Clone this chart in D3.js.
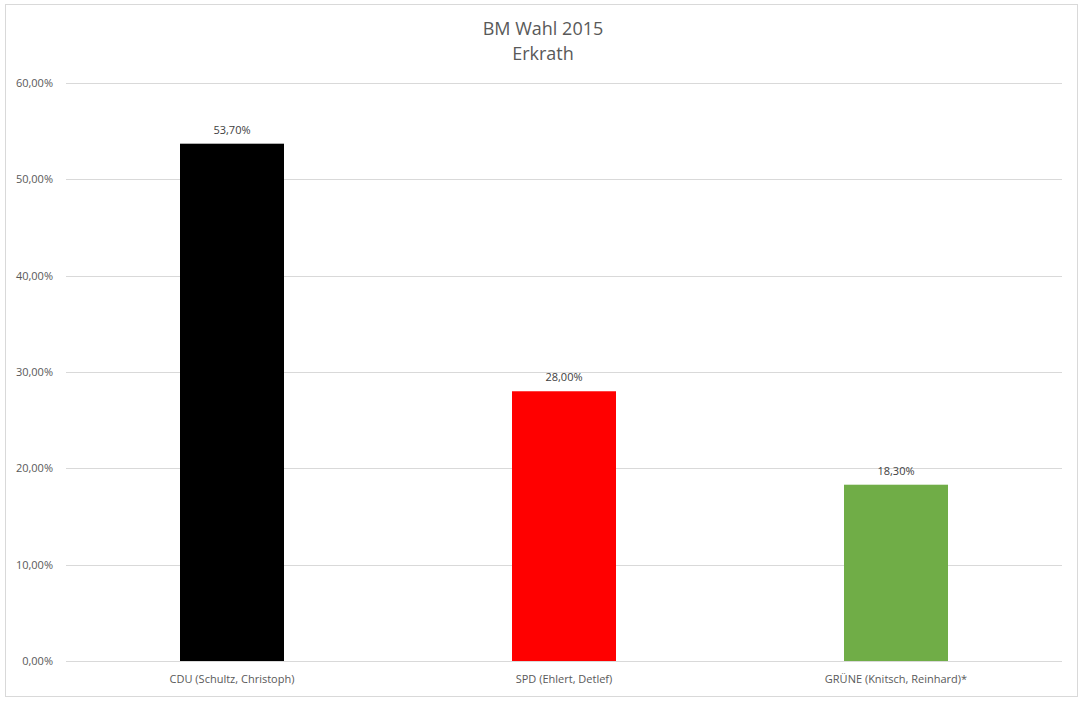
<!DOCTYPE html>
<html lang="de">
    <head>
        <meta charset="utf-8">
        <script type="text/javascript" src="https://cdn.jsdelivr.net/npm/d3@7"></script>
        <title>BM Wahl 2015</title>
        <style>
            body { margin: 0; background: #fff; }
        </style>
    </head>
    <body>
        <script type="text/javascript">
            var w = 1083;
            var h = 701;

            // data
            var categories = ["CDU (Schultz, Christoph)", "SPD (Ehlert, Detlef)", "GRÜNE (Knitsch, Reinhard)*"];
            var values = [53.7, 28.0, 18.3];
            var barColors = ["#000000", "#ff0000", "#70ad47"];
            var yTicks = [0, 10, 20, 30, 40, 50, 60];

            var fmt = function(d){
                return d.toFixed(2).replace(".", ",") + "%";
            };

            // plot area (avoid "top" - it's a read-only window global)
            var plotLeft = 66, plotRight = 1062, plotTop = 83, plotBottom = 661;

            var xScale = d3.scaleBand()
                            .domain(categories)
                            .range([plotLeft, plotRight])
                            .paddingInner(0)
                            .paddingOuter(0);

            var yScale = d3.scaleLinear()
                            .domain([0, 60])
                            .range([plotBottom, plotTop]);

            var svg = d3.select("body")
                        .append("svg")
                        .attr("width", w)
                        .attr("height", h)
                        .style("font-family", "'Open Sans', Calibri, sans-serif");

            // chart border
            svg.append("rect")
                .attr("x", 5.5)
                .attr("y", 4.5)
                .attr("width", 1072)
                .attr("height", 692)
                .attr("fill", "white")
                .attr("stroke", "#d9d9d9");

            // title
            svg.append("text")
                .attr("x", 543)
                .attr("y", 35)
                .attr("text-anchor", "middle")
                .attr("font-size", "18px")
                .attr("fill", "#595959")
                .text("BM Wahl 2015");
            svg.append("text")
                .attr("x", 543)
                .attr("y", 60)
                .attr("text-anchor", "middle")
                .attr("font-size", "18px")
                .attr("fill", "#595959")
                .text("Erkrath");

            // gridlines
            svg.selectAll("line.grid")
                .data(yTicks)
                .enter()
                .append("line")
                .attr("class", "grid")
                .attr("x1", plotLeft)
                .attr("x2", plotRight)
                .attr("y1", function(d){ return Math.round(yScale(d)) + 0.5; })
                .attr("y2", function(d){ return Math.round(yScale(d)) + 0.5; })
                .attr("stroke", "#d9d9d9");

            // y axis labels
            svg.selectAll("text.ytick")
                .data(yTicks)
                .enter()
                .append("text")
                .attr("class", "ytick")
                .attr("x", 53)
                .attr("y", function(d){ return yScale(d) + 4; })
                .attr("text-anchor", "end")
                .attr("font-size", "11px")
                .attr("fill", "#595959")
                .text(fmt);

            // bars
            var barW = 104;
            svg.selectAll("rect.bar")
                .data(values)
                .enter()
                .append("rect")
                .attr("class", "bar")
                .attr("x", function(d, i){
                    return xScale(categories[i]) + xScale.bandwidth()/2 - barW/2;
                })
                .attr("y", function(d){ return yScale(d); })
                .attr("width", barW)
                .attr("height", function(d){ return plotBottom - yScale(d); })
                .attr("fill", function(d, i){ return barColors[i]; });

            // value labels
            svg.selectAll("text.val")
                .data(values)
                .enter()
                .append("text")
                .attr("class", "val")
                .attr("x", function(d, i){
                    return xScale(categories[i]) + xScale.bandwidth()/2;
                })
                .attr("y", function(d){ return yScale(d) - 10; })
                .attr("text-anchor", "middle")
                .attr("font-size", "11px")
                .attr("fill", "#404040")
                .text(fmt);

            // category labels
            svg.selectAll("text.cat")
                .data(categories)
                .enter()
                .append("text")
                .attr("class", "cat")
                .attr("x", function(d){ return xScale(d) + xScale.bandwidth()/2; })
                .attr("y", 683)
                .attr("text-anchor", "middle")
                .attr("font-size", "11px")
                .attr("fill", "#595959")
                .text(function(d){ return d; });
        </script>
    </body>
</html>
